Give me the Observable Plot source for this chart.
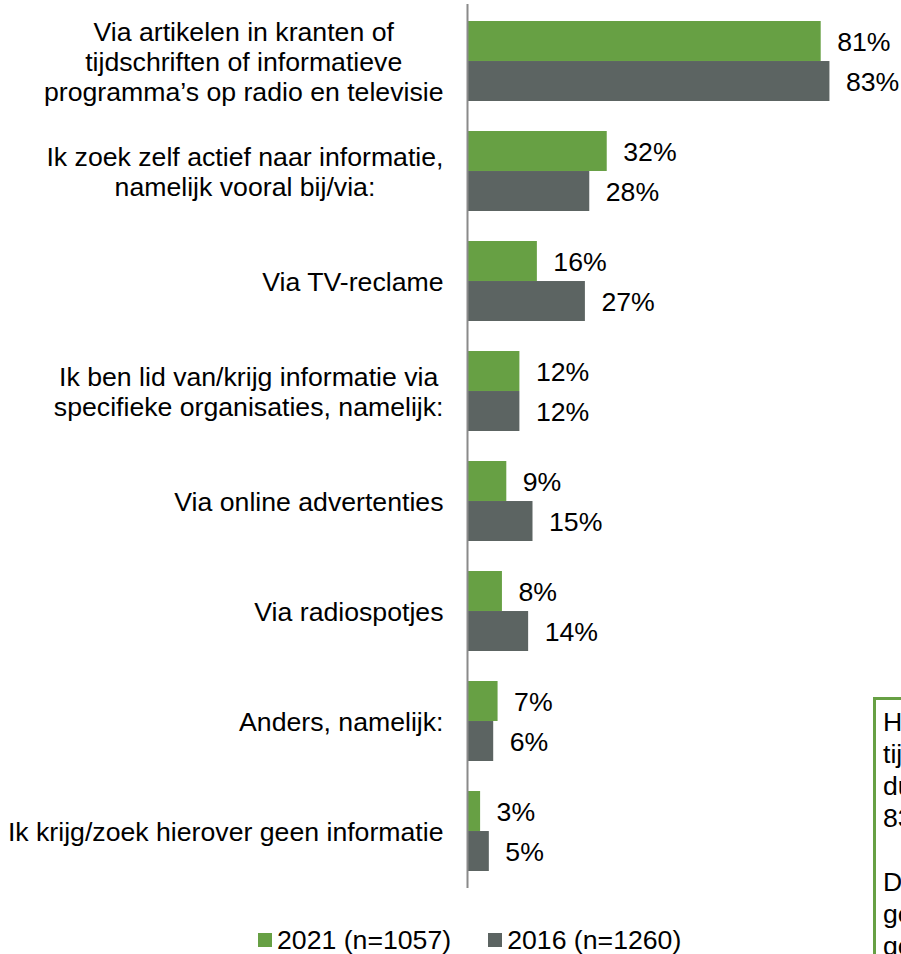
<!DOCTYPE html>
<html><head><meta charset="utf-8">
<script src="https://cdn.jsdelivr.net/npm/d3@7"></script>
<script src="https://cdn.jsdelivr.net/npm/@observablehq/plot@0.6"></script>
<style>
html,body{margin:0;padding:0;background:#fff;}
body{width:901px;height:954px;overflow:hidden;position:relative;font-family:"Liberation Sans",Arial,sans-serif;}
#legend{display:flex;align-items:center;padding-left:258px;margin-top:24px;font-size:26.67px;line-height:32px;color:#000;white-space:nowrap;}
#legend .item{display:flex;align-items:center;margin-right:37px;}
#legend .sw{width:14px;height:14px;margin-right:5px;}
#note{position:absolute;left:873px;top:697px;border:3px solid #67a044;padding:6px 8px 6px 7px;width:320px;height:420px;font-size:26.67px;line-height:32px;white-space:pre;color:#000;}
</style></head><body>
<div id="chart"></div><div id="legend"></div><div id="note"></div>
<script>
const categories = [
  "Via artikelen in kranten of\ntijdschriften of informatieve\nprogramma’s op radio en televisie",
  "Ik zoek zelf actief naar informatie,\nnamelijk vooral bij/via:",
  "Via TV-reclame",
  "Ik ben lid van/krijg informatie via\nspecifieke organisaties, namelijk:",
  "Via online advertenties",
  "Via radiospotjes",
  "Anders, namelijk:",
  "Ik krijg/zoek hierover geen informatie"
];
const seriesNames = ["2021 (n=1057)", "2016 (n=1260)"];
const values2021 = [81, 32, 16, 12, 9, 8, 7, 3];
const values2016 = [83, 28, 27, 12, 15, 14, 6, 5];
const seriesColors = ["#67a044", "#5c6462"];
const noteLines = [
  "Het meest via kranten of",
  "tijdschriften, radio en tv,",
  "dus 81% (in 2016 was dit",
  "83%).",
  "",
  "De andere kanalen worden",
  "gemiddeld minder vaak",
  "genoemd dan in 2016."
];

const rows2021 = categories.map((c, i) => ({category: c, series: seriesNames[0], value: values2021[i]}));
const rows2016 = categories.map((c, i) => ({category: c, series: seriesNames[1], value: values2016[i]}));

const H = 900, mt = 4, mb = 12, pi = 0.275, po = 0.141;
const step = (H - mt - mb) / (categories.length - pi + 2 * po);
const band = step * (1 - pi);
const fs = 26.67;

const chart = Plot.plot({
  width: 901,
  height: H,
  marginLeft: 467,
  marginRight: 41,
  marginTop: mt,
  marginBottom: mb,
  style: {fontFamily: "'Liberation Sans', Arial, sans-serif", fontSize: fs + "px", color: "#000", background: "#fff"},
  x: {domain: [0, 90], axis: null},
  y: {domain: categories, paddingInner: pi, paddingOuter: po, label: null},
  color: {domain: seriesNames, range: seriesColors},
  marks: [
    Plot.barX(rows2021, {x: "value", y: "category", fill: "series", insetBottom: band / 2}),
    Plot.barX(rows2016, {x: "value", y: "category", fill: "series", insetTop: band / 2}),
    Plot.text(rows2021, {x: "value", y: "category", text: d => d.value + "%", textAnchor: "start", dx: 16, dy: -band / 4 + 1, fontSize: fs, fill: "#000"}),
    Plot.text(rows2016, {x: "value", y: "category", text: d => d.value + "%", textAnchor: "start", dx: 16, dy: band / 4 + 1, fontSize: fs, fill: "#000"}),
    Plot.axisY({tickSize: 0, tickPadding: 24, fontSize: fs, lineHeight: 1.125, label: null, fill: "#000"}),
    Plot.ruleX([0], {stroke: "#8a8a8a", strokeWidth: 2})
  ]
});
document.getElementById("chart").append(chart);

// center the lines of each multi-line category label within its block
chart.querySelectorAll('g[aria-label="y-axis tick label"] text').forEach(t => {
  const spans = Array.from(t.querySelectorAll("tspan"));
  if (spans.length < 2) return;
  const widths = spans.map(s => s.getComputedTextLength());
  const W = Math.max(...widths);
  spans.forEach((s, i) => s.setAttribute("x", -(W - widths[i]) / 2));
});

const legend = document.getElementById("legend");
seriesNames.forEach((name, i) => {
  const item = document.createElement("div");
  item.className = "item";
  const sw = document.createElement("span");
  sw.className = "sw";
  sw.style.background = seriesColors[i];
  const lab = document.createElement("span");
  lab.textContent = name;
  item.append(sw, lab);
  legend.append(item);
});

document.getElementById("note").textContent = noteLines.join("\n");
</script>
</body></html>
